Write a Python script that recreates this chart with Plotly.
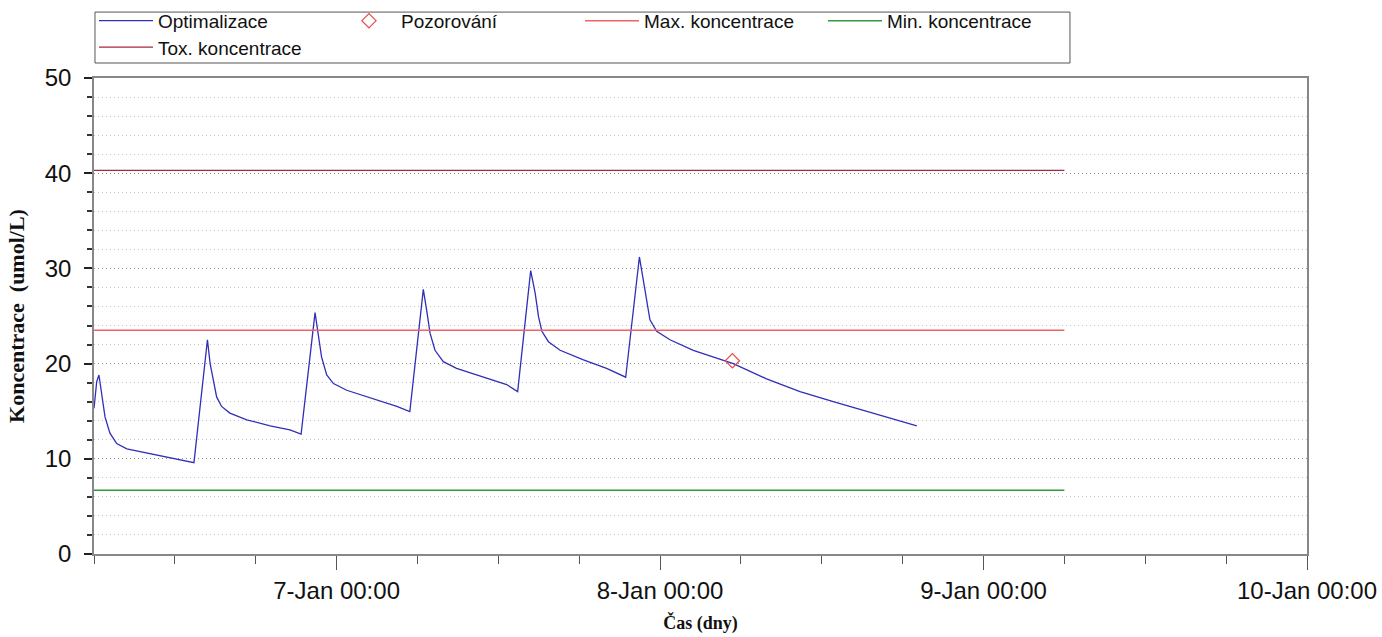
import plotly.graph_objects as go

# Simulated drug concentration profile (umol/L) over time
opt_times = [
    "2011-01-06 06:00", "2011-01-06 06:12", "2011-01-06 06:22", "2011-01-06 06:49",
    "2011-01-06 07:11", "2011-01-06 07:41", "2011-01-06 08:26", "2011-01-06 09:40",
    "2011-01-06 11:08", "2011-01-06 12:23", "2011-01-06 13:25",
    "2011-01-06 14:25", "2011-01-06 14:37", "2011-01-06 14:51", "2011-01-06 15:06",
    "2011-01-06 15:28", "2011-01-06 16:05", "2011-01-06 17:20", "2011-01-06 19:04",
    "2011-01-06 20:32", "2011-01-06 21:22",
    "2011-01-06 22:24", "2011-01-06 22:38", "2011-01-06 22:53", "2011-01-06 23:16",
    "2011-01-06 23:46", "2011-01-07 00:45", "2011-01-07 02:43", "2011-01-07 04:28",
    "2011-01-07 05:26",
    "2011-01-07 06:26", "2011-01-07 06:41", "2011-01-07 06:56", "2011-01-07 07:18",
    "2011-01-07 07:55", "2011-01-07 08:54", "2011-01-07 10:53", "2011-01-07 12:37",
    "2011-01-07 13:26",
    "2011-01-07 14:24", "2011-01-07 14:44", "2011-01-07 14:59", "2011-01-07 15:14",
    "2011-01-07 15:43", "2011-01-07 16:35", "2011-01-07 18:19", "2011-01-07 20:02",
    "2011-01-07 21:27",
    "2011-01-07 22:28", "2011-01-07 22:43", "2011-01-07 22:58", "2011-01-07 23:15",
    "2011-01-07 23:45", "2011-01-08 00:44", "2011-01-08 02:28", "2011-01-08 05:26",
    "2011-01-08 07:54", "2011-01-08 10:23", "2011-01-08 12:51", "2011-01-08 15:20",
    "2011-01-08 19:03",
]
opt_values = [
    15.3, 18.1, 18.8, 14.4, 12.7, 11.6, 11.05, 10.7, 10.24, 9.9, 9.6,
    22.5, 20.0, 18.3, 16.5, 15.5, 14.8, 14.1, 13.46, 13.04, 12.6,
    25.35, 23.2, 20.7, 18.8, 17.9, 17.2, 16.3, 15.5, 14.96,
    27.8, 25.6, 23.2, 21.4, 20.2, 19.5, 18.6, 17.8, 17.06,
    29.76, 27.4, 24.9, 23.4, 22.3, 21.4, 20.4, 19.5, 18.57,
    31.2, 29.1, 26.7, 24.6, 23.4, 22.5, 21.4, 20.0, 18.4, 17.06, 16.0, 14.96, 13.46,
]

# Measured level
obs_times = ["2011-01-08 05:22"]
obs_values = [20.3]

# Concentration limits
limit_times = ["2011-01-06 06:00", "2011-01-09 06:00"]
max_conc = [23.5, 23.5]
min_conc = [6.7, 6.7]
tox_conc = [40.3, 40.3]

x_range = ["2011-01-06 06:00", "2011-01-10 00:00"]

SANS = "Liberation Sans, Arial, sans-serif"
SERIF = "Liberation Serif, Times New Roman, serif"

fig = go.Figure()
fig.add_trace(go.Scatter(
    x=opt_times, y=opt_values, mode="lines", name="Optimalizace",
    line=dict(color="#2f2fb8", width=1.3), legend="legend",
))
fig.add_trace(go.Scatter(
    x=obs_times, y=obs_values, mode="markers", name="Pozorování",
    marker=dict(symbol="diamond-open", size=11, color="#e84a4a", line=dict(width=1.2)),
    legend="legend",
))
fig.add_trace(go.Scatter(
    x=limit_times, y=max_conc, mode="lines", name="Max. koncentrace",
    line=dict(color="#f06262", width=1.4), legend="legend",
))
fig.add_trace(go.Scatter(
    x=limit_times, y=min_conc, mode="lines", name="Min. koncentrace",
    line=dict(color="#2f9a3f", width=1.4), legend="legend",
))
fig.add_trace(go.Scatter(
    x=limit_times, y=tox_conc, mode="lines", name="Tox. koncentrace",
    line=dict(color="#a8283c", width=1.3), legend="legend2",
))

# Frame around the legend rows
fig.add_shape(
    type="rect", xref="paper", yref="paper",
    x0=0.0008, x1=0.8046, y0=1.0315, y1=1.1385,
    line=dict(color="#555", width=1), fillcolor="white", layer="below",
)

legend_common = dict(
    orientation="h", x=0.0, xanchor="left", yanchor="top",
    bgcolor="rgba(0,0,0,0)", borderwidth=0,
    font=dict(size=19, family=SANS, color="#111"),
    entrywidth=174, entrywidthmode="pixels", itemwidth=54,
    tracegroupgap=0,
)

fig.update_layout(
    width=1382, height=637,
    margin=dict(l=94, r=75, t=78, b=83, autoexpand=False),
    paper_bgcolor="white", plot_bgcolor="white",
    font=dict(family=SANS, color="#111"),
    showlegend=True,
    legend=dict(legend_common, y=1.160),
    legend2=dict(legend_common, y=1.1044),
    xaxis=dict(
        type="date", range=x_range,
        tick0="2011-01-07", dtick=86400000, tickformat="%-d-%b %H:%M",
        ticks="outside", ticklen=14, tickcolor="#555", tickwidth=1,
        showline=True, linecolor="#888", linewidth=1.5, mirror=True,
        showgrid=False, zeroline=False,
        tickfont=dict(size=24, family=SANS, color="#111"),
        minor=dict(dtick=21600000, ticks="outside", ticklen=8, tickcolor="#555", showgrid=False),
        title=dict(text="Čas (dny)", standoff=14,
                   font=dict(size=18, family=SERIF, weight="bold")),
    ),
    yaxis=dict(
        range=[0, 50], dtick=10, tick0=0,
        ticks="outside", ticklen=8, tickcolor="#222", tickwidth=1.5,
        ticklabelstandoff=8,
        showline=True, linecolor="#888", linewidth=1.5, mirror=True,
        showgrid=True, gridcolor="#909090", griddash="1px,3px", gridwidth=1,
        zeroline=False,
        tickfont=dict(size=24, family=SANS, color="#111"),
        minor=dict(dtick=2, ticks="outside", ticklen=5, tickcolor="#333",
                   showgrid=True, gridcolor="#c4c4c4", griddash="1px,3px", gridwidth=1),
        title=dict(text="Koncentrace  (umol/L)", standoff=14,
                   font=dict(size=22, family=SERIF, weight="bold")),
    ),
)

fig.write_html("out.html")
